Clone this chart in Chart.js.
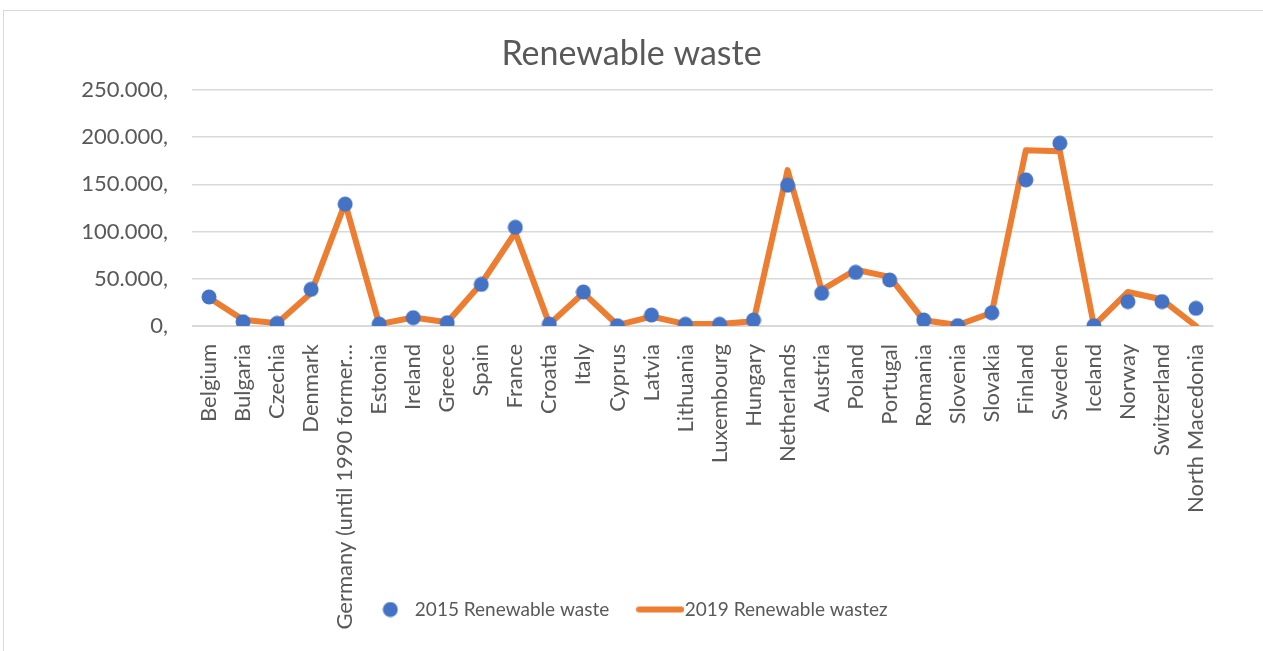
<!DOCTYPE html>
<html>
<head>
<meta charset="utf-8">
<script src="https://cdn.jsdelivr.net/npm/chart.js@4"></script>
<style>
  html, body { margin: 0; padding: 0; background: #fff; }
  #wrap { position: absolute; left: 0; top: 0; width: 1263px; height: 651px; }
  #frame { position: absolute; left: 3px; top: 10px; width: 1262px; height: 645px;
           border: 1px solid #d9d9d9; box-sizing: border-box; pointer-events: none; }
</style>
</head>
<body>
<div id="wrap"><canvas id="chart" width="1263" height="651"></canvas></div>
<div id="frame"></div>
<script>
// categories
const countries = [
  'Belgium', 'Bulgaria', 'Czechia', 'Denmark',
  'Germany (until 1990 former territory of the FRG)',
  'Estonia', 'Ireland', 'Greece', 'Spain', 'France', 'Croatia', 'Italy',
  'Cyprus', 'Latvia', 'Lithuania', 'Luxembourg', 'Hungary', 'Netherlands',
  'Austria', 'Poland', 'Portugal', 'Romania', 'Slovenia', 'Slovakia',
  'Finland', 'Sweden', 'Iceland', 'Norway', 'Switzerland', 'North Macedonia'
];

// 2015 values (dots)
const waste2015 = [
  30700, 4500, 2800, 38800, 129000, 2000, 8800, 3500, 44000, 104500, 2000, 36000,
  300, 11600, 1800, 1800, 6300, 149000, 34600, 56800, 48700, 6400, 400, 14000,
  154700, 193500, 300, 25800, 25800, 18700
];

// 2019 values (line)
const waste2019 = [
  30000, 6500, 3000, 35000, 130000, 2000, 9000, 4000, 45000, 99000, 2000, 35000,
  1000, 10000, 2000, 2000, 5000, 165000, 38000, 59500, 52000, 6000, 1000, 14000,
  186000, 185000, 500, 36000, 28000, 0
];

const yTicksMax = 250000;
const yTicksStep = 50000;

const textColor = '#595959';
const gridColor = '#d9d9d9';
const fontFamily = 'Lato, "Open Sans", sans-serif';

// legend markers drawn on small canvases
function makeDot() {
  const c = document.createElement('canvas');
  c.width = 16; c.height = 16;
  const g = c.getContext('2d');
  g.fillStyle = '#4472C4';
  g.beginPath();
  g.arc(8, 8, 7.5, 0, Math.PI * 2);
  g.fill();
  return c;
}
function makeLine() {
  const c = document.createElement('canvas');
  c.width = 48; c.height = 8;
  const g = c.getContext('2d');
  g.strokeStyle = '#ED7D31';
  g.lineWidth = 6;
  g.lineCap = 'round';
  g.beginPath();
  g.moveTo(3, 4);
  g.lineTo(45, 4);
  g.stroke();
  return c;
}

function shortLabel(s) {
  return s.length > 27 ? s.slice(0, 26) + '…' : s;
}

Chart.defaults.font.family = fontFamily;
Chart.defaults.color = textColor;

new Chart(document.getElementById('chart'), {
  type: 'line',
  data: {
    labels: countries,
    datasets: [{
      label: '2015 Renewable waste',
      data: waste2015,
      showLine: false,
      pointRadius: 7.5,
      pointHoverRadius: 7.5,
      pointBackgroundColor: '#4472C4',
      pointBorderColor: '#4472C4',
      pointBorderWidth: 0,
      backgroundColor: '#4472C4',
      borderColor: '#4472C4',
      pointStyle: makeDot()
    }, {
      label: '2019 Renewable wastez',
      data: waste2019,
      borderColor: '#ED7D31',
      backgroundColor: '#ED7D31',
      borderWidth: 6,
      borderJoinStyle: 'round',
      borderCapStyle: 'round',
      pointRadius: 0,
      tension: 0,
      pointStyle: makeLine()
    }]
  },
  options: {
    responsive: false,
    animation: false,
    layout: { padding: { left: 50, right: 50, top: 0, bottom: 22 } },
    plugins: {
      title: {
        display: true,
        text: 'Renewable waste',
        color: textColor,
        font: { size: 34, weight: 'normal' },
        padding: { top: 34, bottom: 15 }
      },
      legend: {
        position: 'bottom',
        labels: {
          usePointStyle: true,
          pointStyleWidth: 30,
          boxHeight: 16,
          padding: 36,
          color: textColor,
          font: { size: 19 }
        }
      },
      tooltip: { enabled: false }
    },
    scales: {
      x: {
        offset: true,
        grid: { display: false, drawTicks: false },
        border: { display: true, color: gridColor, width: 1 },
        ticks: {
          autoSkip: false,
          minRotation: 90,
          maxRotation: 90,
          padding: 18,
          color: textColor,
          font: { size: 22 },
          callback: function (v) { return shortLabel(this.getLabelForValue(v)); }
        },
        afterFit: s => {
          s.height = 238;
          // let the long rotated label run past the axis box, as in the original
          s._computeLabelArea = () => undefined;
        }
      },
      y: {
        min: 0,
        max: yTicksMax,
        grid: { color: gridColor, lineWidth: 1.5, drawTicks: false },
        border: { display: false },
        ticks: {
          stepSize: yTicksStep,
          padding: 24,
          color: textColor,
          font: { size: 22 },
          callback: v => v.toLocaleString('de-DE') + ','
        },
        afterFit: s => { s.width = 142; }
      }
    }
  }
});
</script>
</body>
</html>
